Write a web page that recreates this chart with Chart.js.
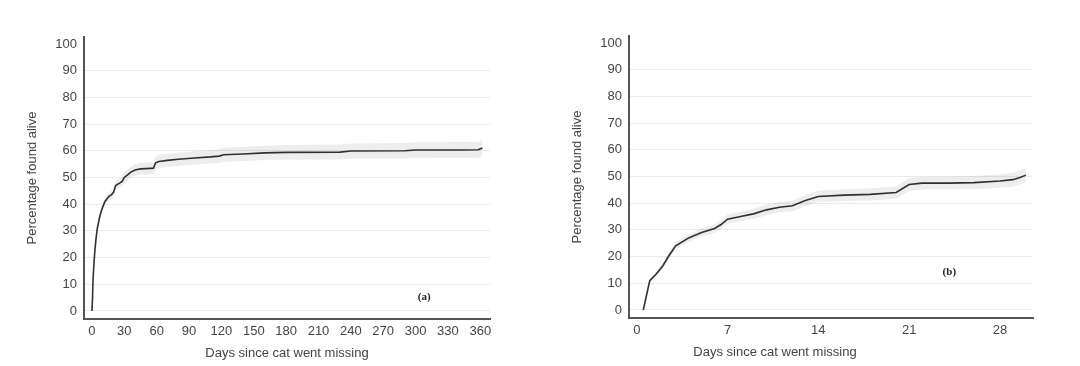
<!DOCTYPE html>
<html>
<head>
<meta charset="utf-8">
<script src="https://cdn.jsdelivr.net/npm/chart.js@4/dist/chart.umd.min.js"></script>
<style>
  body { margin: 0; background: #fff; }
  .box { position: absolute; top: 0; width: 540px; height: 366px; }
  #boxA { left: 0; }
  #boxB { left: 540px; }
</style>
</head>
<body>
<div class="box" id="boxA"><canvas id="chartA" width="540" height="366"></canvas></div>
<div class="box" id="boxB"><canvas id="chartB" width="540" height="366"></canvas></div>
<script>
// (a) whole year
const daysA = [0, 0.5, 1, 2, 3, 4, 5, 6, 7, 8, 10, 12, 14, 16, 18, 20, 22, 24, 26, 28, 30, 33, 36, 40, 45, 50, 57, 59, 62, 70, 80, 95, 110, 118, 122, 140, 160, 180, 230, 240, 290, 300, 340, 358, 362];
const aliveA = [0, 5, 12, 19, 24, 28, 31, 33, 35, 36.5, 39, 41, 42, 43, 43.5, 44.5, 47, 47.5, 48, 48.5, 50, 51, 52, 52.8, 53.2, 53.3, 53.5, 55.5, 56, 56.4, 56.8, 57.3, 57.7, 58, 58.5, 58.8, 59.2, 59.4, 59.5, 59.9, 60, 60.3, 60.3, 60.4, 61];
const bandA = [0, 0.5, 0.5, 0.5, 1, 1, 1, 1, 1, 1, 1.2, 1.2, 1.5, 1.5, 1.5, 1.5, 1.8, 1.8, 1.8, 2, 2, 2, 2, 2.2, 2.2, 2.2, 2.3, 2.5, 2.5, 2.5, 2.5, 2.5, 2.5, 2.6, 2.6, 2.7, 2.7, 2.8, 2.8, 2.8, 2.9, 2.9, 3, 3, 3];

// (b) first month
const daysB = [0.5, 1, 1.5, 2, 2.5, 3, 4, 5, 6, 6.5, 7, 8, 9, 10, 11, 12, 13, 14, 16, 18, 20, 21, 22, 24, 26, 28, 29, 29.5, 30];
const aliveB = [0, 11, 13.5, 16.5, 20.5, 24, 27, 29, 30.5, 32, 34, 35, 36, 37.5, 38.5, 39, 41, 42.5, 43, 43.3, 44, 47, 47.5, 47.5, 47.7, 48.3, 48.8, 49.5, 50.5];
const bandB = [0, 0.8, 1, 1, 1.2, 1.3, 1.5, 1.5, 1.6, 1.7, 1.8, 1.8, 1.9, 2, 2, 2, 2.1, 2.2, 2.2, 2.3, 2.3, 2.4, 2.4, 2.4, 2.5, 2.5, 2.6, 2.6, 2.6];

const yTicks = [0, 10, 20, 30, 40, 50, 60, 70, 80, 90, 100];
const xTicksA = [0, 30, 60, 90, 120, 150, 180, 210, 240, 270, 300, 330, 360];
const xTicksB = [0, 7, 14, 21, 28];

const yTitle = 'Percentage found alive';
const xTitle = 'Days since cat went missing';

const FONT = "'Liberation Sans', Arial, sans-serif";
const INK = '#444';

function pts(xs, ys, d, sign) {
	return xs.map((x, i) => ({ x: x, y: ys[i] + sign * d[i] }));
}

// writes the panel letter and (optionally) a hand placed x title
const captions = {
	id: 'captions',
	afterDraw(chart, args, o) {
		const c = chart.ctx;
		const sx = chart.scales.x, sy = chart.scales.y;
		c.save();
		c.fillStyle = '#222';
		c.font = "bold 11px 'Liberation Serif', serif";
		c.textAlign = 'center';
		c.textBaseline = 'middle';
		c.fillText(o.letter, sx.getPixelForValue(o.at[0]), sy.getPixelForValue(o.at[1]));
		if (o.xTitleAt) {
			c.fillStyle = INK;
			c.font = '13px ' + FONT;
			c.fillText(xTitle, o.xTitleAt[0], o.xTitleAt[1]);
		}
		c.restore();
	}
};

function make_chart(id, xs, ys, band, xTicks, xmin, xmax, opts) {
	const ctx = document.getElementById(id);
	return new Chart(ctx, {
		type: 'line',
		data: {
			datasets: [
				{ data: pts(xs, ys, band, 1), borderWidth: 0, pointRadius: 0, fill: '+1',
				  backgroundColor: 'rgba(0,0,0,0.07)', tension: 0 },
				{ data: pts(xs, ys, band, -1), borderWidth: 0, pointRadius: 0, fill: false, tension: 0 },
				{ data: pts(xs, ys, band, 0), borderColor: '#333', borderWidth: 1.6, pointRadius: 0,
				  fill: false, tension: 0 }
			]
		},
		options: {
			responsive: false,
			animation: false,
			events: [],
			layout: { padding: { top: opts.top, right: opts.right, left: 0, bottom: 0 } },
			plugins: {
				legend: { display: false },
				tooltip: { enabled: false },
				captions: { letter: opts.letter, at: opts.letterAt, xTitleAt: opts.xTitleAt }
			},
			scales: {
				x: {
					type: 'linear', min: xmin, max: xmax,
					afterBuildTicks: s => { s.ticks = xTicks.map(v => ({ value: v })); },
					afterFit: s => { s.height = opts.xh; },
					grid: { display: false, drawTicks: false },
					border: { display: true, color: '#555', width: 2 },
					ticks: { color: INK, font: { family: FONT, size: 13 }, padding: 5, maxRotation: 0 },
					title: { display: !opts.xTitleAt, text: xTitle, color: INK,
					         font: { family: FONT, size: 13 }, padding: { top: 0, bottom: 5 } }
				},
				y: {
					type: 'linear', min: -3, max: 102.6,
					afterBuildTicks: s => { s.ticks = yTicks.map(v => ({ value: v })); },
					afterFit: s => { s.width = opts.yw; },
					grid: {
						drawTicks: false,
						color: c => (c.tick && c.tick.value < 100) ? '#ebebeb' : 'rgba(0,0,0,0)'
					},
					border: { display: true, color: '#555', width: 2 },
					ticks: { color: INK, font: { family: FONT, size: 13 }, padding: 7 },
					title: { display: true, text: yTitle, color: INK,
					         font: { family: FONT, size: 13 }, padding: { top: opts.ytp, bottom: 0 } }
				}
			}
		},
		plugins: [captions]
	});
}

make_chart('chartA', daysA, aliveA, bandA, xTicksA, -7.4, 369,
	{ top: 37, right: 50, xh: 47, yw: 84, ytp: 25, letter: '(a)', letterAt: [308, 5] });

make_chart('chartB', daysB, aliveB, bandB, xTicksB, -0.6, 30.55,
	{ top: 36, right: 47, xh: 48, yw: 89, ytp: 30, letter: '(b)', letterAt: [24.1, 14.3],
	  xTitleAt: [235, 352] });
</script>
</body>
</html>
